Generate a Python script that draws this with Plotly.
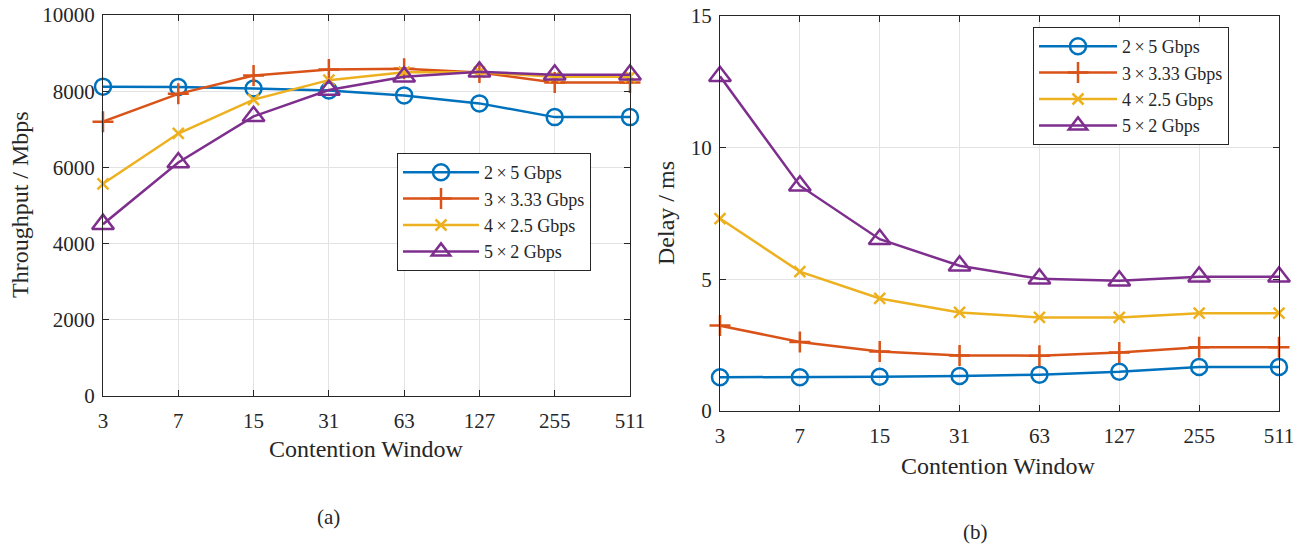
import plotly.graph_objects as go

cw_labels = ["3", "7", "15", "31", "63", "127", "255", "511"]
series_names = ["2\u2009×\u20095 Gbps", "3\u2009×\u20093.33 Gbps", "4\u2009×\u20092.5 Gbps", "5\u2009×\u20092 Gbps"]

thr_2x5 = [8120, 8110, 8070, 8020, 7890, 7680, 7320, 7320]
thr_3x333 = [7200, 7930, 8410, 8570, 8590, 8490, 8230, 8230]
thr_4x25 = [5570, 6890, 7780, 8290, 8500, 8500, 8380, 8380]
thr_5x2 = [4510, 6130, 7340, 8030, 8380, 8510, 8430, 8430]

dly_2x5 = [1.28, 1.28, 1.30, 1.33, 1.38, 1.49, 1.67, 1.67]
dly_3x333 = [3.24, 2.62, 2.26, 2.11, 2.10, 2.22, 2.42, 2.42]
dly_4x25 = [7.30, 5.29, 4.27, 3.74, 3.55, 3.55, 3.71, 3.71]
dly_5x2 = [12.70, 8.55, 6.52, 5.51, 5.02, 4.94, 5.09, 5.09]

colors = ["#0072BD", "#D95319", "#EDB120", "#7E2F8E"]
symbols = ["circle-open", "cross-thin-open", "x-thin-open", "triangle-up-open"]
msizes = [16, 15, 11, 19]

FONT = "Liberation Serif"
TXT = "#262626"

fig = go.Figure()

thr = [thr_2x5, thr_3x333, thr_4x25, thr_5x2]
dly = [dly_2x5, dly_3x333, dly_4x25, dly_5x2]

for i in range(4):
    fig.add_trace(go.Scatter(
        x=cw_labels, y=thr[i], name=series_names[i], mode="lines+markers",
        line=dict(color=colors[i], width=2.5),
        marker=dict(symbol=symbols[i], size=msizes[i], color=colors[i],
                    line=dict(color=colors[i], width=2.5)),
        cliponaxis=False, xaxis="x", yaxis="y", legend="legend"))
for i in range(4):
    fig.add_trace(go.Scatter(
        x=cw_labels, y=dly[i], name=series_names[i], mode="lines+markers",
        line=dict(color=colors[i], width=2.5),
        marker=dict(symbol=symbols[i], size=msizes[i], color=colors[i],
                    line=dict(color=colors[i], width=2.5)),
        cliponaxis=False, xaxis="x2", yaxis="y2", legend="legend2"))

W, H = 1304, 548

def px_x(p):
    return p / W

def px_y(p):
    return 1 - p / H

axis_common = dict(
    showline=True, linecolor=TXT, linewidth=1, mirror="ticks",
    ticks="inside", ticklen=6, tickcolor=TXT, tickwidth=1,
    showgrid=True, gridcolor="#e3e3e3", gridwidth=1,
    tickfont=dict(family=FONT, size=21, color=TXT),
    zeroline=False, automargin=False,
)

def ann(text, x, y, size=24, angle=0):
    return dict(text=text, x=px_x(x), y=px_y(y), xref="paper", yref="paper",
                showarrow=False, textangle=angle, xanchor="center", yanchor="middle",
                font=dict(family=FONT, size=size, color=TXT))

fig.update_layout(
    width=W, height=H,
    margin=dict(l=0, r=0, t=0, b=0, autoexpand=False),
    paper_bgcolor="white", plot_bgcolor="white",
    font=dict(family=FONT, color=TXT),
    xaxis=dict(domain=[px_x(103), px_x(630)], type="category", range=[0, 7],
               ticklabelstandoff=6, anchor="y", **axis_common),
    yaxis=dict(domain=[px_y(396), px_y(15)], range=[0, 10000],
               tickvals=[0, 2000, 4000, 6000, 8000, 10000], tickformat="d",
               ticklabelstandoff=3, anchor="x", **axis_common),
    xaxis2=dict(domain=[px_x(720), px_x(1279)], type="category", range=[0, 7],
                ticklabelstandoff=6, anchor="y2", **axis_common),
    yaxis2=dict(domain=[px_y(411), px_y(15.7)], range=[0, 15], tickvals=[0, 5, 10, 15],
                ticklabelstandoff=3, anchor="x2", **axis_common),
    legend=dict(x=px_x(397), y=px_y(153), xanchor="left", yanchor="top",
                bgcolor="white", bordercolor=TXT, borderwidth=1,
                font=dict(family=FONT, size=18, color=TXT), tracegroupgap=0, itemwidth=76),
    legend2=dict(x=px_x(1033), y=px_y(27), xanchor="left", yanchor="top",
                 bgcolor="white", bordercolor=TXT, borderwidth=1,
                 font=dict(family=FONT, size=18, color=TXT), tracegroupgap=0, itemwidth=78),
    showlegend=True,
    annotations=[
        ann("Contention Window", 366, 449),
        ann("Contention Window", 998, 466),
        ann("Throughput / Mbps", 20, 205, angle=-90),
        ann("Delay / ms", 666, 213, angle=-90),
        ann("(a)", 328, 517, size=21),
        ann("(b)", 975, 532, size=21),
    ],
)

fig.write_html("out.html")
